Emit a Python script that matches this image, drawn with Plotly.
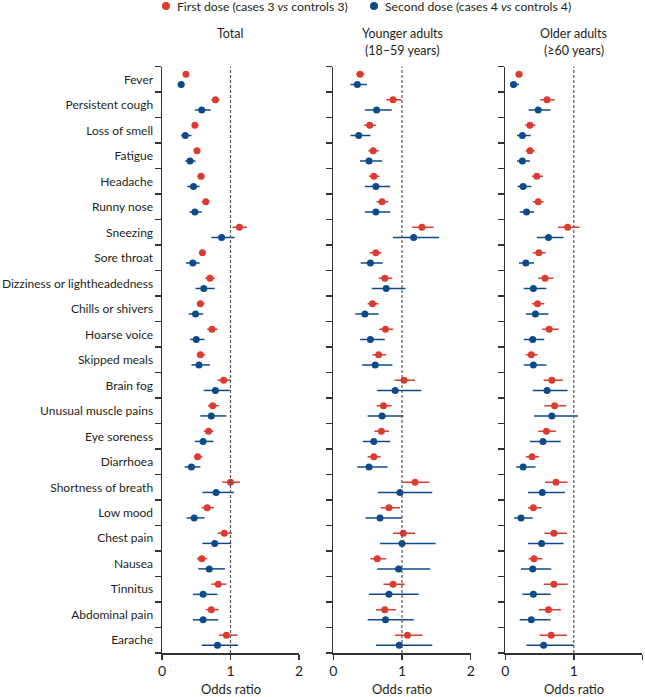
import plotly.graph_objects as go

symptoms = ["Fever", "Persistent cough", "Loss of smell", "Fatigue", "Headache", "Runny nose",
            "Sneezing", "Sore throat", "Dizziness or lightheadedness", "Chills or shivers",
            "Hoarse voice", "Skipped meals", "Brain fog", "Unusual muscle pains", "Eye soreness",
            "Diarrhoea", "Shortness of breath", "Low mood", "Chest pain", "Nausea", "Tinnitus",
            "Abdominal pain", "Earache"]

# Total
tot_d1 = [0.35, 0.78, 0.48, 0.51, 0.57, 0.64, 1.13, 0.59, 0.70, 0.56, 0.73, 0.56, 0.90, 0.74, 0.68, 0.52, 1.00, 0.66, 0.91, 0.58, 0.82, 0.72, 0.94]
tot_d1_lo = [0.31, 0.72, 0.44, 0.47, 0.52, 0.58, 1.03, 0.54, 0.63, 0.51, 0.66, 0.51, 0.81, 0.67, 0.61, 0.47, 0.88, 0.58, 0.81, 0.51, 0.72, 0.64, 0.83]
tot_d1_hi = [0.39, 0.84, 0.53, 0.56, 0.62, 0.69, 1.24, 0.64, 0.77, 0.62, 0.81, 0.63, 1.01, 0.83, 0.75, 0.59, 1.14, 0.76, 1.02, 0.66, 0.94, 0.83, 1.10]
tot_d2 = [0.28, 0.58, 0.34, 0.41, 0.46, 0.48, 0.87, 0.45, 0.61, 0.49, 0.50, 0.54, 0.78, 0.72, 0.60, 0.43, 0.79, 0.47, 0.77, 0.69, 0.60, 0.60, 0.81]
tot_d2_lo = [0.23, 0.48, 0.28, 0.34, 0.37, 0.40, 0.72, 0.35, 0.49, 0.39, 0.41, 0.43, 0.61, 0.56, 0.48, 0.33, 0.59, 0.36, 0.59, 0.53, 0.45, 0.45, 0.58]
tot_d2_hi = [0.33, 0.71, 0.43, 0.49, 0.55, 0.58, 1.06, 0.55, 0.77, 0.60, 0.62, 0.70, 0.99, 0.94, 0.75, 0.56, 1.05, 0.62, 1.01, 0.92, 0.81, 0.82, 1.11]

# Younger adults (18-59)
yng_d1 = [0.39, 0.87, 0.53, 0.58, 0.59, 0.71, 1.29, 0.62, 0.75, 0.57, 0.76, 0.66, 1.03, 0.73, 0.70, 0.59, 1.19, 0.81, 1.02, 0.64, 0.87, 0.75, 1.08]
yng_d1_lo = [0.33, 0.77, 0.45, 0.51, 0.52, 0.63, 1.15, 0.53, 0.66, 0.50, 0.67, 0.57, 0.89, 0.63, 0.60, 0.50, 1.01, 0.69, 0.87, 0.54, 0.73, 0.62, 0.90]
yng_d1_hi = [0.45, 0.99, 0.62, 0.66, 0.67, 0.80, 1.46, 0.70, 0.86, 0.66, 0.87, 0.77, 1.19, 0.85, 0.81, 0.69, 1.40, 0.97, 1.19, 0.77, 1.04, 0.91, 1.30]
yng_d2 = [0.35, 0.63, 0.37, 0.52, 0.62, 0.62, 1.17, 0.54, 0.77, 0.46, 0.54, 0.61, 0.90, 0.71, 0.59, 0.52, 0.97, 0.68, 1.00, 0.95, 0.81, 0.76, 0.96]
yng_d2_lo = [0.25, 0.46, 0.25, 0.39, 0.46, 0.46, 0.87, 0.40, 0.56, 0.32, 0.39, 0.42, 0.64, 0.50, 0.43, 0.35, 0.65, 0.47, 0.68, 0.64, 0.52, 0.50, 0.62]
yng_d2_hi = [0.49, 0.85, 0.54, 0.71, 0.83, 0.83, 1.54, 0.72, 1.05, 0.66, 0.75, 0.86, 1.28, 1.02, 0.83, 0.79, 1.44, 1.00, 1.49, 1.41, 1.24, 1.17, 1.44]

# Older adults (>=60)
old_d1 = [0.20, 0.61, 0.36, 0.36, 0.46, 0.48, 0.91, 0.49, 0.58, 0.47, 0.64, 0.38, 0.68, 0.72, 0.60, 0.39, 0.74, 0.41, 0.71, 0.42, 0.71, 0.63, 0.67]
old_d1_lo = [0.15, 0.51, 0.29, 0.30, 0.39, 0.40, 0.77, 0.40, 0.48, 0.39, 0.54, 0.30, 0.56, 0.57, 0.48, 0.30, 0.58, 0.33, 0.57, 0.34, 0.56, 0.49, 0.50]
old_d1_hi = [0.25, 0.72, 0.44, 0.43, 0.55, 0.56, 1.08, 0.59, 0.70, 0.57, 0.78, 0.47, 0.84, 0.89, 0.74, 0.49, 0.91, 0.53, 0.90, 0.54, 0.91, 0.81, 0.90]
old_d2 = [0.12, 0.48, 0.25, 0.25, 0.26, 0.31, 0.63, 0.30, 0.41, 0.44, 0.40, 0.41, 0.61, 0.68, 0.55, 0.26, 0.54, 0.23, 0.53, 0.40, 0.41, 0.38, 0.56]
old_d2_lo = [0.07, 0.34, 0.17, 0.17, 0.18, 0.21, 0.46, 0.20, 0.27, 0.30, 0.27, 0.27, 0.40, 0.42, 0.36, 0.16, 0.33, 0.13, 0.33, 0.23, 0.25, 0.21, 0.31]
old_d2_hi = [0.20, 0.66, 0.37, 0.36, 0.38, 0.42, 0.85, 0.42, 0.60, 0.63, 0.57, 0.60, 0.91, 1.06, 0.81, 0.44, 0.87, 0.40, 0.85, 0.67, 0.66, 0.66, 1.00]

panel_titles = ["Total", "Younger adults<br>(18–59 years)", "Older adults<br>(≥60 years)"]
legend_names = ["First dose (cases 3 <i>vs</i> controls 3)", "Second dose (cases 4 <i>vs</i> controls 4)"]
xticks = [0, 1, 2]

RED = "#dc3b30"
BLUE = "#0d4a8a"
FONT = "Lato"
TXT = "#231f20"

panels = [
    (tot_d1, tot_d1_lo, tot_d1_hi, tot_d2, tot_d2_lo, tot_d2_hi),
    (yng_d1, yng_d1_lo, yng_d1_hi, yng_d2, yng_d2_lo, yng_d2_hi),
    (old_d1, old_d1_lo, old_d1_hi, old_d2, old_d2_lo, old_d2_hi),
]

W, H = 645, 697
xdom_px = [(162, 299), (333.3, 470.7), (505.3, 642.3)]
ytop_px, ybot_px = 66.7, 653

fig = go.Figure()
idx = list(range(len(symptoms)))
for p, (d1, d1lo, d1hi, d2, d2lo, d2hi) in enumerate(panels):
    xa = "x" if p == 0 else f"x{p+1}"
    ya = "y" if p == 0 else f"y{p+1}"
    for vals, lo, hi, col, off in [(d1, d1lo, d1hi, RED, -0.2), (d2, d2lo, d2hi, BLUE, 0.2)]:
        fig.add_trace(go.Scatter(
            x=vals, y=[i + off for i in idx], mode="markers",
            marker=dict(color=col, size=7),
            error_x=dict(type="data", symmetric=False,
                         array=[h - v for h, v in zip(hi, vals)],
                         arrayminus=[v - l for v, l in zip(vals, lo)],
                         color=col, thickness=1.5, width=0),
            xaxis=xa, yaxis=ya, showlegend=False, hoverinfo="skip", cliponaxis=False))

layout = dict(width=W, height=H, margin=dict(l=0, r=0, t=0, b=0, autoexpand=False),
              plot_bgcolor="white", paper_bgcolor="white",
              font=dict(family=FONT, size=12, color=TXT))
ydom = [(H - ybot_px) / H, (H - ytop_px) / H]
shapes = []
annotations = []
for p in range(3):
    sfx = "" if p == 0 else str(p + 1)
    x0, x1 = xdom_px[p]
    layout["xaxis" + sfx] = dict(
        domain=[x0 / W, x1 / W], range=[0, 2], anchor="y" + sfx, automargin=False,
        tickvals=xticks, ticks="outside", ticklen=5, tickwidth=1.5, tickcolor="#333",
        showline=True, linewidth=1.5, linecolor="#333", showgrid=False, zeroline=False,
        tickfont=dict(size=14, color=TXT))
    layout["yaxis" + sfx] = dict(
        domain=ydom, range=[len(symptoms) - 0.5, -0.5], anchor="x" + sfx, automargin=False,
        tickmode="array", tickvals=idx, ticktext=symptoms,
        showticklabels=(p == 0), ticks="outside", ticklen=5, tickcolor="rgba(0,0,0,0)",
        minor=dict(tickmode="array", tickvals=[i - 0.5 for i in range(len(symptoms) + 1)],
                   ticks="outside", ticklen=6, tickwidth=1.5, tickcolor="#333"),
        showline=True, linewidth=1.5, linecolor="#333", showgrid=False, zeroline=False,
        tickfont=dict(size=12, color=TXT))
    shapes.append(dict(type="line", xref="x" + sfx, yref="y" + sfx + " domain",
                       x0=1, x1=1, y0=0, y1=1, line=dict(color="#555", width=1.2, dash="3px,2px")))
    lines = panel_titles[p].split("<br>")
    for k, ln in enumerate(lines):
        annotations.append(dict(text=ln, xref="x" + sfx, yref="paper", x=1, y=(H - (33 + 18 * k)) / H,
                                showarrow=False, font=dict(size=12.5, color=TXT), yanchor="middle"))
    annotations.append(dict(text="Odds ratio", xref="x" + sfx, yref="paper", x=1, y=(H - 689) / H,
                            showarrow=False, font=dict(size=13, color=TXT), yanchor="middle"))

# legend
leg = [(166, 175, legend_names[0], RED), (374, 383, legend_names[1], BLUE)]
for cx, tx, name, col in leg:
    shapes.append(dict(type="circle", xref="paper", yref="paper",
                       x0=(cx - 4) / W, x1=(cx + 4) / W, y0=(H - 10) / H, y1=(H - 2) / H,
                       fillcolor=col, line=dict(width=0)))
    annotations.append(dict(text=name, xref="paper", yref="paper", x=tx / W, y=(H - 7) / H,
                            xanchor="left", yanchor="middle", showarrow=False,
                            font=dict(size=12.2, color=TXT)))
layout["shapes"] = shapes
layout["annotations"] = annotations
fig.update_layout(**layout)

fig.write_html("out.html", config={"displayModeBar": False, "staticPlot": True},
               post_script="document.body.style.margin='0';document.body.style.overflow='hidden';")
